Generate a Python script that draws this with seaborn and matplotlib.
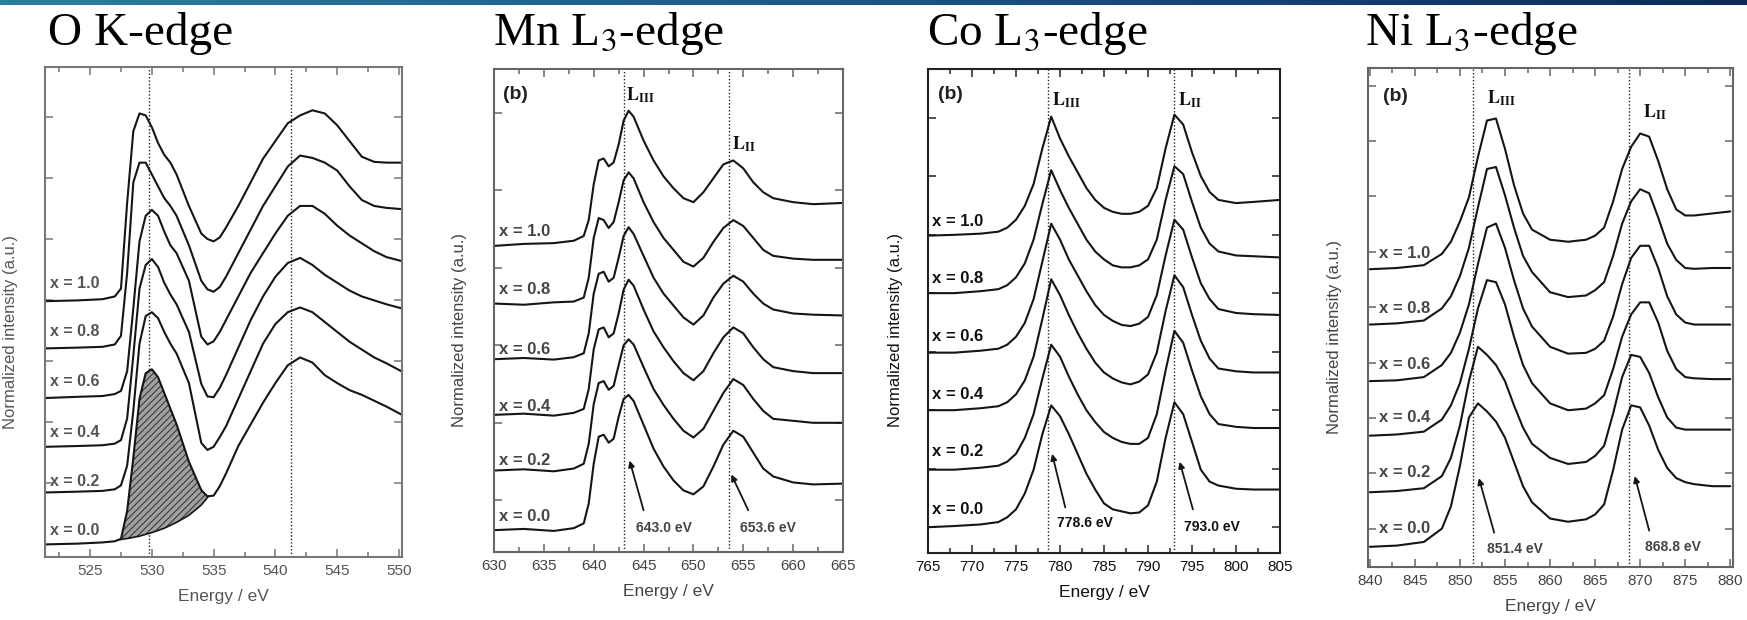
import numpy as np
import pandas as pd
import matplotlib
matplotlib.use("Agg")
import matplotlib.pyplot as plt
import seaborn as sns
from matplotlib.ticker import MultipleLocator, NullFormatter, FixedLocator
from matplotlib.colors import LinearSegmentedColormap

# ---------------- data (intensity in arbitrary units, stacked) ----------------
sample_labels = ["x = 1.0", "x = 0.8", "x = 0.6", "x = 0.4", "x = 0.2", "x = 0.0"]

o_energy = [521.4, 524, 526, 527, 527.5, 528, 528.5, 529, 529.5, 530, 530.5, 531, 531.5, 532, 533, 534,
            534.5, 535, 535.5, 536, 537, 538, 539, 540, 541, 542, 543, 544, 545, 546, 547, 548, 549, 550.2]
o_x10 = [650, 652, 655, 662, 682, 900, 1082, 1127, 1122, 1092, 1052, 1022, 1002, 972, 892, 822,
         808, 802, 812, 837, 892, 952, 1012, 1057, 1102, 1122, 1135, 1127, 1097, 1057, 1017, 1004, 1002, 1002]
o_x08 = [530, 532, 534, 540, 562, 722, 952, 1002, 1002, 972, 942, 912, 892, 867, 792, 702,
         680, 674, 686, 712, 772, 832, 892, 942, 992, 1020, 1014, 1002, 982, 942, 907, 892, 887, 884]
o_x06 = [404, 407, 409, 414, 422, 472, 632, 802, 867, 882, 867, 827, 792, 772, 702, 560,
         540, 548, 572, 602, 662, 722, 772, 822, 867, 892, 892, 872, 842, 817, 797, 777, 762, 752]
o_x04 = [280, 282, 284, 288, 297, 352, 512, 682, 742, 757, 737, 697, 667, 642, 572, 440,
         408, 406, 430, 462, 532, 602, 662, 712, 747, 760, 742, 717, 697, 677, 662, 652, 642, 632]
o_x02 = [164, 166, 168, 172, 182, 232, 372, 542, 612, 622, 607, 572, 542, 517, 442, 290,
         272, 280, 305, 332, 402, 472, 542, 592, 622, 634, 622, 597, 572, 547, 527, 507, 492, 472]
o_x00 = [32, 34, 37, 40, 46, 117, 252, 402, 467, 477, 457, 417, 377, 337, 242, 170,
         154, 156, 180, 212, 282, 337, 392, 442, 487, 507, 494, 462, 442, 424, 412, 397, 382, 362]
o_bg_energy = [527.4, 528.2, 529.0, 530.0, 531.0, 532.0, 533.0, 534.0, 534.6]
o_bg = [44, 48, 53, 62, 73, 88, 106, 132, 155]

mn_energy = [630, 633, 636, 638, 639, 639.5, 640, 640.5, 641, 641.5, 642, 642.5, 643, 643.5, 644, 645,
             646, 647, 648, 649, 650, 651, 652, 653, 654, 655, 656, 657, 658, 660, 662, 665]
mn_x10 = [770, 775, 777, 783, 795, 835, 925, 985, 990, 970, 980, 1025, 1085, 1110, 1095, 1035,
          985, 945, 915, 890, 880, 905, 940, 975, 985, 965, 930, 905, 890, 880, 875, 878]
mn_x08 = [625, 622, 628, 630, 640, 690, 790, 840, 835, 815, 830, 880, 935, 955, 940, 880,
          830, 790, 760, 730, 718, 740, 780, 815, 835, 820, 790, 760, 745, 738, 735, 735]
mn_x06 = [485, 488, 484, 490, 500, 550, 650, 700, 705, 680, 690, 740, 795, 817, 800, 745,
          690, 650, 620, 590, 572, 595, 640, 675, 695, 680, 650, 625, 610, 600, 597, 595]
mn_x04 = [345, 348, 343, 350, 360, 410, 510, 560, 565, 540, 550, 600, 660, 685, 670, 610,
          555, 515, 480, 450, 432, 455, 500, 540, 565, 550, 515, 485, 465, 455, 450, 450]
mn_x02 = [205, 208, 203, 210, 222, 272, 372, 425, 430, 408, 418, 470, 520, 535, 522, 465,
          410, 370, 335, 305, 288, 310, 355, 400, 435, 420, 385, 355, 335, 330, 325, 325]
mn_x00 = [55, 58, 53, 60, 72, 122, 222, 290, 295, 275, 285, 340, 385, 395, 380, 320,
          260, 215, 180, 155, 145, 165, 215, 270, 305, 290, 250, 210, 190, 175, 170, 172]

co_energy = [765, 768, 771, 773, 774, 775, 776, 777, 778, 779, 780, 781, 782, 783, 784, 785,
             786, 787, 788, 789, 790, 791, 792, 793, 794, 795, 796, 797, 798, 800, 802, 805]
co_x10 = [800, 802, 805, 810, 820, 840, 875, 930, 1020, 1100, 1045, 1000, 960, 920, 890, 870,
          860, 855, 855, 860, 875, 920, 1020, 1105, 1080, 1010, 950, 910, 890, 882, 885, 890]
co_x08 = [655, 655, 660, 665, 675, 695, 730, 790, 880, 965, 915, 870, 830, 790, 760, 740,
          725, 720, 720, 725, 740, 790, 890, 975, 955, 885, 820, 780, 760, 750, 748, 745]
co_x06 = [505, 505, 510, 515, 525, 545, 580, 640, 735, 830, 790, 740, 700, 660, 625, 600,
          585, 575, 572, 578, 595, 650, 750, 840, 815, 745, 680, 640, 615, 605, 602, 600]
co_x04 = [360, 360, 365, 370, 380, 400, 435, 495, 590, 690, 650, 600, 555, 515, 480, 455,
          440, 430, 425, 432, 450, 505, 610, 700, 670, 600, 535, 490, 465, 458, 455, 455]
co_x02 = [210, 210, 215, 220, 230, 250, 290, 350, 440, 525, 495, 445, 400, 360, 330, 305,
          290, 280, 275, 275, 290, 350, 460, 560, 530, 460, 395, 350, 325, 318, 315, 315]
co_x00 = [65, 68, 72, 78, 90, 110, 150, 210, 300, 372, 345, 300, 250, 200, 160, 125,
          110, 105, 100, 102, 120, 180, 290, 380, 350, 280, 210, 180, 170, 162, 160, 160]

ni_energy = [840, 843, 846, 848, 849, 850, 851, 852, 853, 854, 855, 856, 857, 858, 860, 862,
             864, 865, 866, 867, 868, 869, 870, 871, 872, 873, 874, 875, 876, 878, 880]
ni_x10 = [737, 740, 747, 775, 805, 855, 915, 1015, 1105, 1110, 1035, 945, 875, 835, 810, 805,
          810, 820, 840, 905, 985, 1040, 1073, 1065, 1005, 935, 885, 870, 870, 875, 880]
ni_x08 = [600, 603, 610, 640, 670, 720, 790, 890, 985, 990, 920, 840, 770, 730, 680, 668,
          672, 685, 705, 770, 850, 905, 935, 925, 865, 800, 760, 740, 738, 740, 740]
ni_x06 = [460, 462, 470, 500, 530, 580, 650, 750, 840, 850, 790, 710, 640, 595, 545, 528,
          530, 540, 560, 620, 700, 765, 795, 795, 740, 670, 625, 605, 600, 600, 600]
ni_x04 = [325, 328, 335, 365, 400, 455, 540, 640, 710, 705, 650, 570, 500, 455, 405, 388,
          392, 405, 425, 490, 570, 625, 655, 655, 605, 535, 490, 470, 467, 465, 465]
ni_x02 = [185, 188, 195, 225, 270, 350, 460, 545, 525, 500, 460, 400, 345, 305, 270, 255,
          260, 275, 300, 380, 470, 525, 520, 480, 420, 370, 345, 340, 340, 340, 340]
ni_x00 = [50, 53, 62, 95, 150, 250, 370, 405, 385, 360, 320, 260, 200, 160, 120, 112,
          118, 130, 155, 240, 340, 400, 395, 350, 290, 245, 220, 210, 205, 200, 200]

titles = ["O K-edge", "Mn L$_3$-edge", "Co L$_3$-edge", "Ni L$_3$-edge"]
peak_lines = [[529.8, 541.3], [643.0, 653.6], [778.6, 793.0], [851.4, 868.8]]
peak_texts = [[], ["643.0 eV", "653.6 eV"], ["778.6 eV", "793.0 eV"], ["851.4 eV", "868.8 eV"]]

# ---------------- style / layout ----------------
sns.set_theme(style="ticks")
plt.rcParams["font.family"] = ["Liberation Sans", "DejaVu Sans"]
plt.rcParams["mathtext.fontset"] = "stix"
plt.rcParams["hatch.linewidth"] = 0.8

W, H = 1747, 620
fig = plt.figure(figsize=(W / 100, H / 100), dpi=100)


def rect(x0, y0, x1, y1):
    return [x0 / W, 1 - y1 / H, (x1 - x0) / W, (y1 - y0) / H]


# top banner gradient
bax = fig.add_axes([0, 1 - 5 / H, 1, 5 / H])
cmap = LinearSegmentedColormap.from_list("banner", ["#2b7f9e", "#1b5686", "#0c2a5c"])
bax.imshow(np.linspace(0, 1, 256)[None, :], aspect="auto", cmap=cmap)
bax.axis("off")

panels = [
    dict(energy=o_energy, series=[o_x10, o_x08, o_x06, o_x04, o_x02, o_x00],
         box=(45, 67, 402, 557), xlim=(521.35, 550.25), ylim=(0, 1245),
         yticks=np.arange(187, 1245, 155), title_x=48,
         lab_x=521.75, lab_h=[694, 572, 447, 317, 192, 67],
         txt="#555555", spine="#777777", ylab_x=18, labsize=11.5,
         arrows=[], btag=None, Ltags=[]),
    dict(energy=mn_energy, series=[mn_x10, mn_x08, mn_x06, mn_x04, mn_x02, mn_x00],
         box=(494, 69, 843, 552), xlim=(630, 665), ylim=(0, 1215),
         yticks=np.arange(130, 1215, 195), title_x=493,
         lab_x=630.5, lab_h=[807, 660, 510, 365, 230, 90],
         txt="#444444", spine="#666666", ylab_x=467, labsize=12,
         arrows=[((644.2, 60), (645.0, 105), (643.6, 230)),
                 ((654.7, 60), (655.5, 105), (653.8, 195))],
         btag=(630.9, 1150), Ltags=[(643.2, 1150, "III"), (653.9, 1025, "II")]),
    dict(energy=co_energy, series=[co_x10, co_x08, co_x06, co_x04, co_x02, co_x00],
         box=(928, 69, 1280, 553), xlim=(765, 805), ylim=(0, 1220),
         yticks=np.arange(65, 1220, 147.5), title_x=927,
         lab_x=765.4, lab_h=[835, 692, 545, 400, 257, 110],
         txt="#111111", spine="#222222", ylab_x=903, labsize=12,
         arrows=[((779.7, 75), (780.6, 115), (779.1, 250)),
                 ((794.1, 65), (795.1, 110), (793.6, 230))],
         btag=(766.1, 1155), Ltags=[(779.1, 1140, "III"), (793.4, 1140, "II")]),
    dict(energy=ni_energy, series=[ni_x10, ni_x08, ni_x06, ni_x04, ni_x02, ni_x00],
         box=(1368, 68, 1733, 567), xlim=(839.8, 880.3), ylim=(0, 1235),
         yticks=np.arange(95, 1235, 137), title_x=1365,
         lab_x=841.0, lab_h=[775, 640, 500, 370, 235, 95],
         txt="#444444", spine="#666666", ylab_x=1342, labsize=12,
         arrows=[((853.0, 45), (853.8, 85), (852.1, 220)),
                 ((870.5, 50), (871.0, 90), (869.4, 225))],
         btag=(841.5, 1165), Ltags=[(853.0, 1160, "III"), (870.3, 1125, "II")]),
]

for i, p in enumerate(panels):
    ax = fig.add_axes(rect(*p["box"]))
    frames = []
    for lab, vals in zip(sample_labels, p["series"]):
        frames.append(pd.DataFrame({"energy": p["energy"], "intensity": vals, "sample": lab}))
    df = pd.concat(frames, ignore_index=True)
    sns.lineplot(data=df, x="energy", y="intensity", units="sample", estimator=None,
                 color="#151515", lw=1.5, ax=ax, sort=False)

    if i == 0:
        xs = np.linspace(o_bg_energy[0], o_bg_energy[-1], 120)
        top = np.interp(xs, o_energy, o_x00)
        bot = np.interp(xs, o_bg_energy, o_bg)
        ax.fill_between(xs, bot, top, facecolor="#a0a0a0", edgecolor="#3a3a3a",
                        hatch="/////", lw=0)
        sns.lineplot(x=o_bg_energy, y=o_bg, color="#151515", lw=1.2, ax=ax)

    for e in peak_lines[i]:
        ax.axvline(e, ls=(0, (1, 1.5)), color="#222222", lw=1.0, zorder=0)

    ax.set_xlim(*p["xlim"])
    ax.set_ylim(*p["ylim"])
    ax.xaxis.set_major_locator(MultipleLocator(5))
    ax.xaxis.set_minor_locator(MultipleLocator(2.5))
    ax.yaxis.set_major_locator(FixedLocator(p["yticks"]))
    ax.yaxis.set_major_formatter(NullFormatter())
    ax.tick_params(axis="both", which="both", direction="in", top=True, right=True,
                   color=p["spine"], width=1.1)
    ax.tick_params(axis="both", which="major", length=6)
    ax.tick_params(axis="both", which="minor", length=3.5)
    ax.tick_params(axis="x", which="major", labelsize=11, labelcolor=p["txt"], pad=5)
    for s in ax.spines.values():
        s.set_color(p["spine"])
        s.set_linewidth(1.5)
    ax.set_xlabel("Energy / eV", fontsize=12.5, color=p["txt"], labelpad=8)
    ax.set_ylabel("Normalized intensity (a.u.)", fontsize=12, color=p["txt"])
    x0, y0, x1, y1 = p["box"]
    ax.yaxis.set_label_coords((p["ylab_x"] - x0) / (x1 - x0), 0.46)

    for lab, h in zip(sample_labels, p["lab_h"]):
        ax.text(p["lab_x"], h, lab, fontsize=p["labsize"], fontweight="bold",
                color=p["txt"], ha="left", va="center")

    for (txt_xy, tail, tip), label in zip(p["arrows"], peak_texts[i]):
        ax.annotate("", xy=tip, xytext=tail,
                    arrowprops=dict(arrowstyle="-|>", color="#151515", lw=1.3,
                                    mutation_scale=9, shrinkA=0, shrinkB=0))
        ax.text(txt_xy[0], txt_xy[1], label, fontsize=10, fontweight="bold",
                color=p["txt"], ha="left", va="center")

    if p["btag"] is not None:
        ax.text(p["btag"][0], p["btag"][1], "(b)", fontsize=14, fontweight="bold",
                color="#222222", ha="left", va="center")
    for ex, eh, sub in p["Ltags"]:
        ax.text(ex, eh, r"$\mathbf{L}_{\mathbf{" + sub + "}}$", fontsize=13,
                color="#111111", ha="left", va="center")

    fig.text(p["title_x"] / W, 1 - 45 / H, titles[i], fontsize=34,
             family=["Liberation Serif", "DejaVu Serif"], ha="left", va="baseline",
             color="black")

fig.savefig("out.png", dpi=100)
